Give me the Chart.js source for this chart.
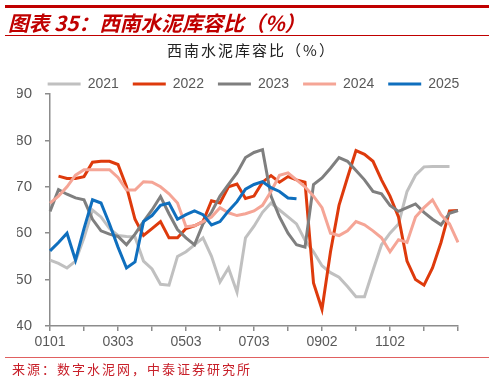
<!DOCTYPE html>
<html>
<head>
<meta charset="utf-8">
<script src="https://cdn.jsdelivr.net/npm/chart.js@4.4.1/dist/chart.umd.min.js"></script>
<style>
  body { margin: 0; background: #fff; }
  #wrap { position: relative; width: 493px; height: 381px; overflow: hidden; }
  #box { position: absolute; left: 0; top: 0; width: 493px; height: 381px; }
  .rule { position: absolute; left: 5px; width: 484px; }
  .txt { position: absolute; white-space: nowrap; font-family: "Noto Sans CJK SC", sans-serif; }
  #head { left: 8px; top: 12px; font-size: 20.7px; line-height: 20px; font-weight: bold; font-style: italic; color: #c00000; }
  #sub { left: 5px; width: 493px; text-align: center; top: 42px; font-size: 15px; line-height: 15px; letter-spacing: 2px; color: #222; }
  #src { left: 12px; top: 362px; font-size: 13px; line-height: 13px; letter-spacing: 2px; color: #c8202a; }
</style>
</head>
<body>
<div id="wrap">
  <div id="box"><canvas id="chart1"></canvas></div>
  <div class="rule" style="top:5px;height:2.5px;background:#c00000"></div>
  <div class="txt" id="head">图表 35：西南水泥库容比（%）</div>
  <div class="rule" style="top:35px;height:1px;background:#c00000"></div>
  <div class="txt" id="sub">西南水泥库容比（%）</div>
  <div class="rule" style="top:357px;height:1px;background:#e06060"></div>
  <div class="txt" id="src">来源：数字水泥网，中泰证券研究所</div>
</div>
<script>
// categories (MMDD)
var dates = [
  "0101", "0109", "0116", "0124", "0201", "0208", "0216", "0223",
  "0303", "0311", "0318", "0326", "0402", "0410", "0418", "0425",
  "0503", "0511", "0518", "0526", "0602", "0610", "0618", "0625",
  "0703", "0711", "0718", "0726", "0802", "0810", "0818", "0825",
  "0902", "0910", "0917", "0925", "1002", "1010", "1018", "1025",
  "1102", "1110", "1117", "1125", "1202", "1210", "1218", "1225", "1231"
];

var y2021 = [54.2, 53.5, 52.5, 54, 59, 65, 63.5, 61, 59.5, 59.3, 59.2, 54, 52.3, 49, 48.8, 55,
  56, 57.5, 59, 55, 49.5, 52.5, 47.3, 59, 61.5, 64.5, 66.5, 65, 63.5, 62, 58.5, 56,
  53, 51.5, 50.5, 48.5, 46.3, 46.3, 52, 57.5, 60, 62, 69, 72.5, 74.3, 74.4, 74.4, 74.4, null];
var y2022 = [null, 72.3, 71.8, 71.8, 72.2, 75.3, 75.5, 75.5, 74.8, 70, 63, 59.5, 61, 62.5, 59, 59,
  61, 61.6, 62.5, 67, 66.5, 70, 70.6, 67.5, 68, 71, 72.4, 71, 72.2, 71.5, 71, 49.3,
  43.6, 56, 66, 72, 77.8, 77, 75.5, 71.5, 68, 63.5, 54, 50, 48.8, 52.5, 58, 64.8, 64.9];
var y2023 = [64.7, 69.4, 68.4, 67.6, 67.2, 63, 60.5, 59.8, 59.3, 57.5, 59.8, 62.5, 65, 67.9, 64.2, 60.8,
  59, 57.5, 62, 64.5, 68, 70.5, 73, 76.3, 77.4, 78, 68, 63.5, 60, 57.5, 57, 70.5,
  71.9, 74, 76.3, 75.5, 73.5, 71.5, 69, 68.5, 66, 64.7, 65.5, 66.3, 64.5, 63, 61.8, 64.3, 64.9];
var y2024 = [66.5, 68, 70, 72.5, 73.7, 73.7, 73.7, 73.7, 72, 69.3, 69.3, 71.1, 71, 70, 68.5, 66.5,
  61.4, 61.6, 62.5, 63.5, 65.5, 64.4, 63.8, 64.2, 64.8, 66, 69, 72.5, 73, 71.5, 70, 68,
  65.5, 60, 59.5, 60.5, 62.5, 61.8, 60.5, 59, 56, 58.6, 58, 63.5, 65.5, 67.2, 64, 62, 58];
var y2025 = [56.2, 58, 60, 54.2, 61, 67.2, 66.5, 62, 57, 52.5, 53.8, 62.5, 63.8, 66, 66.5, 63,
  64, 64.8, 64, 61.8, 62.5, 64.8, 66.8, 69.5, 70.5, 71.1, 69.8, 69, 67.6, 67.4];

var yTicks = [40, 50, 60, 70, 80, 90];

var axisColor = "#8c8c8c";
var textColor = "#595959";

function line(label, data, color, order) {
  return {
    label: label,
    data: data,
    borderColor: color,
    backgroundColor: color,
    borderWidth: 3,
    pointRadius: 0,
    tension: 0,
    order: order,
  };
}

// legend sits over the plot, not over the whole canvas
var legendShift = {
  id: "legendShift",
  afterLayout: function (chart) {
    chart.legend.left += 16;
    chart.legend.right += 16;
  },
};

var ctx = document.getElementById("chart1").getContext("2d");
var myChart = new Chart(ctx, {
  type: "line",
  data: {
    labels: dates,
    datasets: [
      line("2021", y2021, "#c0c0c0", 5),
      line("2022", y2022, "#de3a0c", 4),
      line("2023", y2023, "#7f7f7f", 3),
      line("2024", y2024, "#f5a596", 2),
      line("2025", y2025, "#0f6fbe", 1),
    ],
  },
  plugins: [legendShift],
  options: {
    animation: false,
    responsive: true,
    maintainAspectRatio: false,
    layout: {
      padding: { left: 17, right: 35, top: 63, bottom: 30 },
    },
    plugins: {
      title: { display: false },
      tooltip: { enabled: false },
      legend: {
        display: true,
        position: "top",
        maxHeight: 31,
        labels: {
          boxWidth: 33,
          boxHeight: 3,
          padding: 14,
          color: textColor,
          font: { family: "Arial, 'Liberation Sans'", size: 14 },
          sort: function (a, b) {
            return a.datasetIndex - b.datasetIndex;
          },
          generateLabels: function (chart) {
            var items = Chart.defaults.plugins.legend.labels.generateLabels(chart);
            items.forEach(function (it) {
              it.lineWidth = 0;
            });
            return items;
          },
        },
      },
    },
    scales: {
      x: {
        type: "category",
        offset: false,
        afterFit: function (scale) {
          scale.height = 25;
        },
        border: { color: axisColor, width: 1.5 },
        grid: {
          drawOnChartArea: false,
          drawTicks: true,
          tickLength: 5,
          color: axisColor,
          lineWidth: 1.5,
        },
        ticks: {
          autoSkip: false,
          maxRotation: 0,
          padding: 3,
          color: textColor,
          font: { family: "Arial, 'Liberation Sans'", size: 14 },
          callback: function (value, index) {
            if (index % 8 === 0 && index < dates.length - 1) return dates[index];
            if (index % 4 === 0) return "";
            return null;
          },
        },
      },
      y: {
        min: 40,
        max: 90,
        afterFit: function (scale) {
          scale.width = 33;
        },
        afterBuildTicks: function (scale) {
          scale.ticks = yTicks.map(function (v) {
            return { value: v };
          });
        },
        border: { color: axisColor, width: 1.5 },
        grid: {
          drawOnChartArea: false,
          drawTicks: true,
          tickLength: 5,
          color: axisColor,
          lineWidth: 1.5,
        },
        ticks: {
          padding: 13,
          color: textColor,
          font: { family: "Arial, 'Liberation Sans'", size: 15 },
        },
      },
    },
  },
});
</script>
</body>
</html>
